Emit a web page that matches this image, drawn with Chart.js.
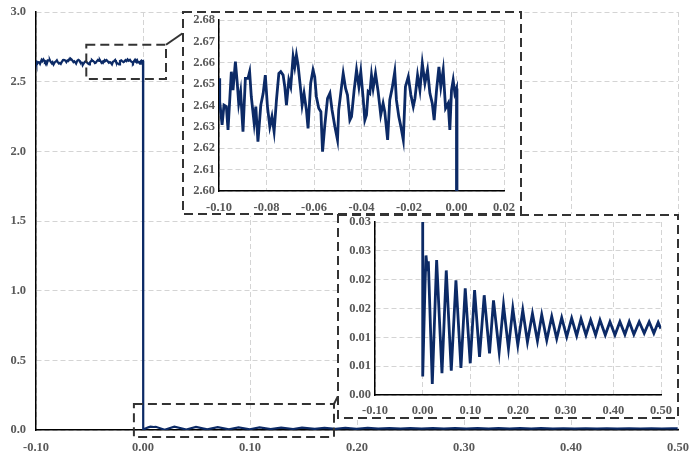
<!DOCTYPE html>
<html>
<head>
<meta charset="utf-8">
<script src="https://cdn.jsdelivr.net/npm/chart.js@4"></script>
<style>
  html, body { margin: 0; padding: 0; background: #fff; overflow: hidden; }
  #wrap { position: relative; width: 689px; height: 454px; overflow: hidden; }
  canvas { position: absolute; background: #fff; }
</style>
</head>
<body>
<div id="wrap">
  <canvas id="mainChart" width="700" height="454" style="left:0;top:0"></canvas>
  <canvas id="inset1" width="341" height="205" style="left:182px;top:11px"></canvas>
  <canvas id="inset2" width="343" height="206" style="left:337px;top:214px"></canvas>
</div>
<script>
// signal before the step
const preTime = [
  -0.1000, -0.0997, -0.0987, -0.0979, -0.0969, -0.0962, -0.0948, -0.0941, -0.0931, -0.0923,
  -0.0917, -0.0909, -0.0899, -0.0889, -0.0878, -0.0871, -0.0864, -0.0852, -0.0845, -0.0836,
  -0.0824, -0.0814, -0.0805, -0.0796, -0.0786, -0.0777, -0.0768, -0.0758, -0.0748, -0.0740,
  -0.0730, -0.0723, -0.0716, -0.0706, -0.0698, -0.0688, -0.0681, -0.0674, -0.0667, -0.0656,
  -0.0650, -0.0642, -0.0632, -0.0625, -0.0614, -0.0604, -0.0597, -0.0590, -0.0580, -0.0571,
  -0.0564, -0.0555, -0.0543, -0.0533, -0.0524, -0.0512, -0.0501, -0.0496, -0.0484, -0.0477,
  -0.0467, -0.0459, -0.0449, -0.0442, -0.0431, -0.0421, -0.0411, -0.0403, -0.0393, -0.0386,
  -0.0379, -0.0372, -0.0365, -0.0358, -0.0351, -0.0341, -0.0330, -0.0319, -0.0309, -0.0302,
  -0.0290, -0.0281, -0.0271, -0.0260, -0.0253, -0.0243, -0.0234, -0.0224, -0.0215, -0.0203,
  -0.0192, -0.0182, -0.0175, -0.0164, -0.0154, -0.0144, -0.0133, -0.0122, -0.0112, -0.0102,
  -0.0094, -0.0084, -0.0074, -0.0066, -0.0056, -0.0046, -0.0035, -0.0028, -0.0021, -0.0014,
  -0.0007, 0.0000
];
const preValue = [
  2.6527, 2.6418, 2.6309, 2.6402, 2.6395, 2.6286, 2.6558, 2.6472, 2.6605, 2.6504,
  2.6410, 2.6465, 2.6278, 2.6527, 2.6527, 2.6558, 2.6441, 2.6317, 2.6395, 2.6231,
  2.6402, 2.6457, 2.6542, 2.6395, 2.6301, 2.6348, 2.6278, 2.6426, 2.6550, 2.6558,
  2.6542, 2.6488, 2.6402, 2.6519, 2.6488, 2.6628, 2.6581, 2.6636, 2.6589, 2.6472,
  2.6402, 2.6457, 2.6379, 2.6293, 2.6504, 2.6566, 2.6535, 2.6441, 2.6387, 2.6371,
  2.6184, 2.6301, 2.6433, 2.6457, 2.6379, 2.6301, 2.6239, 2.6379, 2.6488, 2.6550,
  2.6480, 2.6449, 2.6332, 2.6348, 2.6472, 2.6566, 2.6488, 2.6558, 2.6433, 2.6332,
  2.6356, 2.6465, 2.6457, 2.6542, 2.6480, 2.6550, 2.6465, 2.6356, 2.6410, 2.6371,
  2.6239, 2.6426, 2.6480, 2.6558, 2.6426, 2.6348, 2.6301, 2.6239, 2.6488, 2.6535,
  2.6449, 2.6395, 2.6433, 2.6542, 2.6472, 2.6597, 2.6504, 2.6566, 2.6457, 2.6410,
  2.6332, 2.6472, 2.6581, 2.6488, 2.6566, 2.6387, 2.6410, 2.6286, 2.6472, 2.6519,
  2.6457, 2.6480
];

// signal after the step
const postTime = [
  0.0002, 0.0049, 0.0070, 0.0100, 0.0119, 0.0202, 0.0293, 0.0405, 0.0495, 0.0600,
  0.0698, 0.0803, 0.0893, 0.0998, 0.1089, 0.1193, 0.1291, 0.1403, 0.1486, 0.1605,
  0.1696, 0.1800, 0.1891, 0.1996, 0.2100, 0.2198, 0.2303, 0.2408, 0.2498, 0.2603,
  0.2708, 0.2812, 0.2917, 0.3022, 0.3126, 0.3231, 0.3322, 0.3426, 0.3524, 0.3629,
  0.3720, 0.3831, 0.3929, 0.4034, 0.4138, 0.4243, 0.4334, 0.4431, 0.4543, 0.4648,
  0.4752, 0.4850, 0.4941, 0.4997
];
const postValue = [
  0.0032, 0.0190, 0.0242, 0.0215, 0.0232, 0.0019, 0.0234, 0.0038, 0.0216, 0.0042,
  0.0199, 0.0047, 0.0185, 0.0055, 0.0182, 0.0066, 0.0173, 0.0072, 0.0164, 0.0075,
  0.0156, 0.0081, 0.0150, 0.0087, 0.0147, 0.0092, 0.0141, 0.0094, 0.0139, 0.0095,
  0.0136, 0.0098, 0.0134, 0.0101, 0.0133, 0.0103, 0.0132, 0.0104, 0.0130, 0.0104,
  0.0130, 0.0104, 0.0127, 0.0104, 0.0127, 0.0105, 0.0127, 0.0105, 0.0127, 0.0107,
  0.0127, 0.0107, 0.0126, 0.0115
];

// ticks
const mainXTicks = [-0.1, 0, 0.1, 0.2, 0.3, 0.4, 0.5];
const mainXLabels = ['-0.10', '0.00', '0.10', '0.20', '0.30', '0.40', '0.50'];
const mainYTicks = [0, 0.5, 1, 1.5, 2, 2.5, 3];
const mainYLabels = ['0.0', '0.5', '1.0', '1.5', '2.0', '2.5', '3.0'];
const in1XTicks = [-0.1, -0.08, -0.06, -0.04, -0.02, 0, 0.02];
const in1XLabels = ['-0.10', '-0.08', '-0.06', '-0.04', '-0.02', '0.00', '0.02'];
const in1YTicks = [2.60, 2.61, 2.62, 2.63, 2.64, 2.65, 2.66, 2.67, 2.68];
const in1YLabels = ['2.60', '2.61', '2.62', '2.63', '2.64', '2.65', '2.66', '2.67', '2.68'];
const in2XTicks = [-0.1, 0, 0.1, 0.2, 0.3, 0.4, 0.5];
const in2XLabels = ['-0.10', '0.00', '0.10', '0.20', '0.30', '0.40', '0.50'];
const in2YTicks = [0, 0.005, 0.01, 0.015, 0.02, 0.025, 0.03];
const in2YLabels = ['0.00', '0.01', '0.01', '0.02', '0.02', '0.03', '0.03'];

// zoom windows marked on the main chart: [xMin, xMax, yMin, yMax]
const zoom1 = [-0.053, 0.0215, 2.52, 2.765];
const zoom2 = [-0.0085, 0.1785, -0.05, 0.187];

const lineColor = '#0c2a66';
const gridColor = '#d4d4d4';
const textColor = '#595959';
const tickFont = { family: '"Liberation Serif", "Times New Roman", serif', size: 12.5, weight: 'bold' };

const points = preTime.map((t, i) => ({ x: t, y: preValue[i] }))
  .concat(postTime.map((t, i) => ({ x: t, y: postValue[i] })));

function axis(min, max, ticks, labels, pad, fitSize, isX) {
  return {
    type: 'linear',
    min: min,
    max: max,
    afterBuildTicks: s => { s.ticks = ticks.map(v => ({ value: v })); },
    afterFit: s => {
      // let layout.padding alone decide the plot area edges
      if (isX) { s.height = fitSize; s.paddingLeft = 0; s.paddingRight = 0; }
      else { s.width = fitSize; s.paddingTop = 0; s.paddingBottom = 0; }
    },
    ticks: {
      color: textColor,
      font: tickFont,
      padding: pad,
      autoSkip: false,
      maxRotation: 0,
      callback: (v, i) => labels[i]
    },
    grid: { color: gridColor, lineWidth: 1, drawTicks: false },
    border: { display: true, color: '#000', width: 1.5, dash: [5, 3] }
  };
}

function dataset(width) {
  return {
    data: points,
    borderColor: lineColor,
    borderWidth: width,
    pointRadius: 0,
    tension: 0,
    fill: false
  };
}

const dashBox = {
  id: 'dashBox',
  afterDraw(chart, args, opts) {
    if (!opts.frame) return;
    const ctx = chart.ctx;
    ctx.save();
    ctx.strokeStyle = '#333';
    ctx.lineWidth = 2;
    ctx.setLineDash([9, 5]);
    ctx.strokeRect(1, 1, chart.width - 3, chart.height - 3);
    ctx.restore();
  }
};

const zoomMarks = {
  id: 'zoomMarks',
  afterDraw(chart) {
    const { ctx, scales: { x, y } } = chart;
    const marks = [
      { z: zoom1, to: [183, 33] },
      { z: zoom2, to: [338, 396] }
    ];
    ctx.save();
    ctx.strokeStyle = '#333';
    ctx.lineWidth = 2;
    marks.forEach(m => {
      const x0 = x.getPixelForValue(m.z[0]);
      const x1 = x.getPixelForValue(m.z[1]);
      const y0 = y.getPixelForValue(m.z[3]);
      const y1 = y.getPixelForValue(m.z[2]);
      ctx.setLineDash([9, 5]);
      ctx.strokeRect(x0, y0, x1 - x0, y1 - y0);
      ctx.setLineDash([]);
      ctx.beginPath();
      ctx.moveTo(x1, y0);
      ctx.lineTo(m.to[0], m.to[1]);
      ctx.stroke();
    });
    ctx.restore();
  }
};

Chart.register(dashBox);

new Chart(document.getElementById('mainChart'), {
  type: 'line',
  data: { datasets: [dataset(2.2)] },
  options: {
    responsive: false,
    animation: false,
    layout: { padding: { top: 12, right: 22, left: 0, bottom: 0 } },
    plugins: { legend: { display: false }, tooltip: { enabled: false }, dashBox: { frame: false } },
    scales: {
      x: axis(-0.1, 0.5, mainXTicks, mainXLabels, 10, 24, true),
      y: axis(0, 3, mainYTicks, mainYLabels, 10, 36, false)
    }
  },
  plugins: [zoomMarks]
});

new Chart(document.getElementById('inset1'), {
  type: 'line',
  data: { datasets: [dataset(2.8)] },
  options: {
    responsive: false,
    animation: false,
    layout: { padding: { top: 9, right: 19, left: 0, bottom: 0 } },
    plugins: { legend: { display: false }, tooltip: { enabled: false }, dashBox: { frame: true } },
    scales: {
      x: axis(-0.1, 0.02, in1XTicks, in1XLabels, 9, 25, true),
      y: axis(2.60, 2.68, in1YTicks, in1YLabels, 4, 37, false)
    }
  }
});

new Chart(document.getElementById('inset2'), {
  type: 'line',
  data: { datasets: [dataset(2.8)] },
  options: {
    responsive: false,
    animation: false,
    layout: { padding: { top: 8, right: 19, left: 0, bottom: 0 } },
    plugins: { legend: { display: false }, tooltip: { enabled: false }, dashBox: { frame: true } },
    scales: {
      x: axis(-0.1, 0.5, in2XTicks, in2XLabels, 8, 25, true),
      y: axis(0, 0.03, in2YTicks, in2YLabels, 4, 38, false)
    }
  }
});
</script>
</body>
</html>
